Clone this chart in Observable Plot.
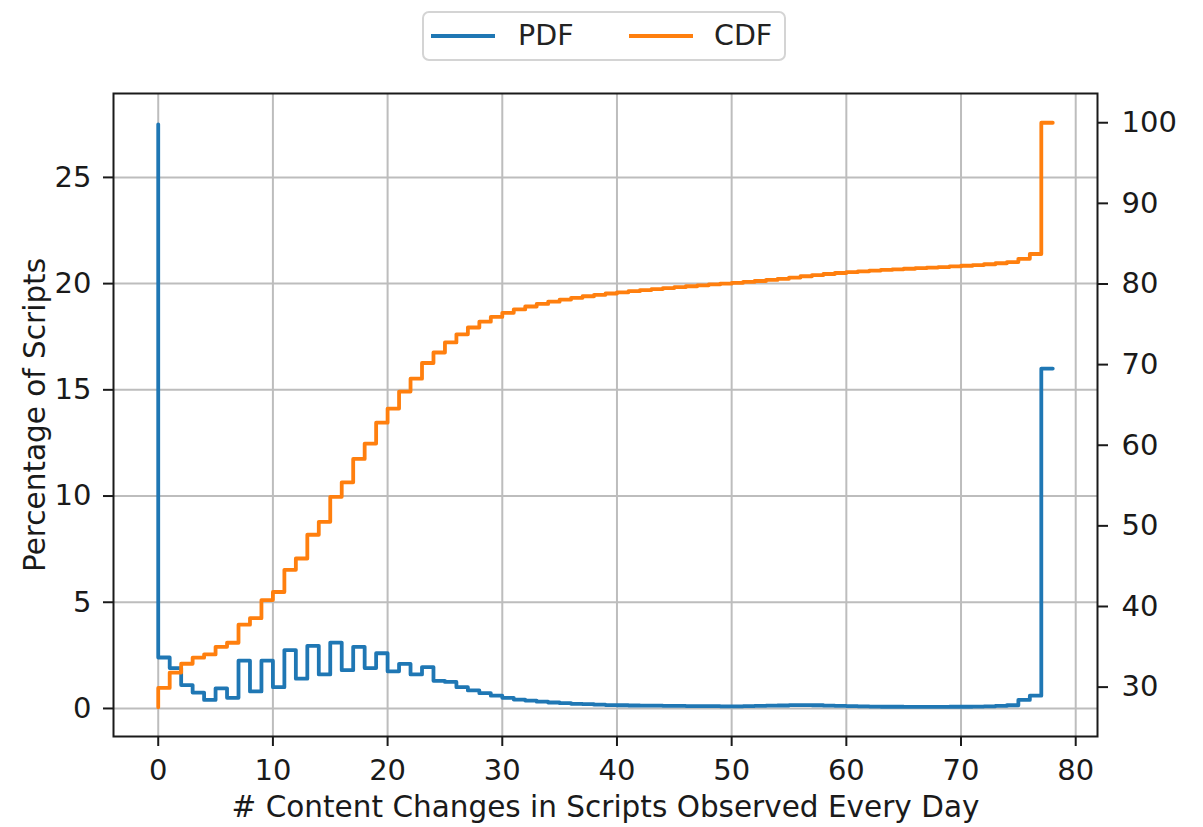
<!DOCTYPE html>
<html>
<head>
<meta charset="utf-8">
<script src="https://cdn.jsdelivr.net/npm/d3@7"></script>
<script src="https://cdn.jsdelivr.net/npm/@observablehq/plot@0.6"></script>
<style>
  html, body { margin: 0; padding: 0; background: #fff; }
  body { width: 1203px; height: 827px; overflow: hidden; font-family: "DejaVu Sans", sans-serif; }
  #legendRow { position: relative; width: 1203px; height: 70px; }
  #legend { position: absolute; left: 422px; top: 11px; width: 364px; height: 50px; box-sizing: border-box;
            border: 2px solid #d4d4d4; border-radius: 7px; background: #fff; }
  .sw { position: absolute; top: 21px; height: 4px; width: 64px; }
  .lt { position: absolute; top: 0; height: 46px; line-height: 46px; font-size: 28.5px; color: #222; }
</style>
</head>
<body>
<div id="legendRow">
  <div id="legend">
    <div class="sw" style="left:7px;background:#1f77b4"></div>
    <div class="lt" style="left:94px">PDF</div>
    <div class="sw" style="left:205px;background:#ff7f0e"></div>
    <div class="lt" style="left:290px">CDF</div>
  </div>
</div>
<div id="chart"></div>
<script>
// # content changes (0..78)
const changes = d3.range(0, 79);
// PDF: percentage of scripts per number of content changes
const pdf = [27.5, 2.4, 1.9, 1.1, 0.75, 0.4, 0.95, 0.5, 2.25, 0.8, 2.25, 1.0, 2.75, 1.4, 2.95, 1.6, 3.1, 1.8, 2.9, 1.9,
  2.6, 1.75, 2.1, 1.6, 1.95, 1.3, 1.25, 1.0, 0.85, 0.72, 0.6, 0.5, 0.42, 0.37, 0.32, 0.28, 0.25, 0.22, 0.2, 0.18,
  0.16, 0.15, 0.14, 0.13, 0.13, 0.12, 0.12, 0.11, 0.11, 0.11, 0.1, 0.1, 0.11, 0.12, 0.13, 0.14, 0.16, 0.16, 0.15, 0.13,
  0.12, 0.11, 0.1, 0.09, 0.08, 0.08, 0.07, 0.07, 0.07, 0.07, 0.08, 0.08, 0.09, 0.1, 0.12, 0.15, 0.4, 0.6, 16.0];
// CDF (right axis)
const cdf = [27.5, 29.9, 31.8, 32.9, 33.65, 34.05, 35.0, 35.5, 37.75, 38.55, 40.8, 41.8, 44.55, 45.95, 48.9, 50.5, 53.6, 55.4, 58.3, 60.2,
  62.8, 64.55, 66.65, 68.25, 70.2, 71.5, 72.75, 73.75, 74.6, 75.32, 75.92, 76.42, 76.84, 77.21, 77.53, 77.81, 78.06, 78.28, 78.48, 78.66,
  78.82, 78.97, 79.11, 79.24, 79.37, 79.49, 79.61, 79.72, 79.83, 79.94, 80.04, 80.14, 80.25, 80.37, 80.5, 80.64, 80.8, 80.96, 81.11, 81.24,
  81.36, 81.47, 81.57, 81.66, 81.74, 81.82, 81.89, 81.96, 82.03, 82.1, 82.18, 82.26, 82.35, 82.45, 82.57, 82.72, 83.12, 83.72, 100];

const xTicks = [0, 10, 20, 30, 40, 50, 60, 70, 80];
const yLeftTicks = [0, 5, 10, 15, 20, 25];
const yRightTicks = [30, 40, 50, 60, 70, 80, 90, 100];

const leftDomain = [-1.32, 28.95];
const rightDomain = [23.875, 103.625];
const toLeft = d3.scaleLinear().domain(rightDomain).range(leftDomain);

const pdfData = changes.map((c, i) => ({x: c, y: pdf[i]}));
const cdfData = changes.map((c, i) => ({x: c, y: cdf[i]}));

const ink = "#1a1a1a";
const chart = Plot.plot({
  width: 1203,
  height: 757,
  marginTop: 23,
  marginBottom: 91,
  marginLeft: 113,
  marginRight: 106,
  x: {domain: [-3.9, 81.9]},
  y: {domain: leftDomain},
  style: {fontFamily: "DejaVu Sans", fontSize: "29px", color: ink, background: "#fff", overflow: "visible"},
  marks: [
    Plot.gridX(xTicks, {stroke: "#bdbdbd", strokeOpacity: 1, strokeWidth: 2}),
    Plot.gridY(yLeftTicks, {stroke: "#bdbdbd", strokeOpacity: 1, strokeWidth: 2}),
    Plot.line(pdfData, {x: "x", y: "y", curve: "step-before", stroke: "#1f77b4", strokeWidth: 3.8}),
    Plot.line(cdfData, {x: "x", y: d => toLeft(d.y), curve: "step-before", stroke: "#ff7f0e", strokeWidth: 3.8}),
    Plot.frame({stroke: ink, strokeWidth: 2}),
    Plot.axisX(xTicks, {anchor: "bottom", tickSize: 10, tickPadding: 13, tickFormat: d => String(d), label: null, stroke: ink, strokeWidth: 2}),
    Plot.axisY(yLeftTicks, {anchor: "left", tickSize: 10, tickPadding: 12, tickFormat: d => String(d), label: null, stroke: ink, strokeWidth: 2}),
    Plot.axisY(yRightTicks.map(v => toLeft(v)), {anchor: "right", tickSize: 10, tickPadding: 14,
      tickFormat: (d, i) => String(yRightTicks[i]), label: null, stroke: ink, strokeWidth: 2}),
    Plot.text(["# Content Changes in Scripts Observed Every Day"], {frameAnchor: "bottom", dy: 80, lineAnchor: "bottom", textAnchor: "middle", fill: ink, fontSize: 29.5}),
    Plot.text(["Percentage of Scripts"], {frameAnchor: "left", dx: -69, rotate: -90, lineAnchor: "bottom", textAnchor: "middle", fill: ink, fontSize: 29.5})
  ]
});
document.getElementById("chart").appendChild(chart);
</script>
</body>
</html>
